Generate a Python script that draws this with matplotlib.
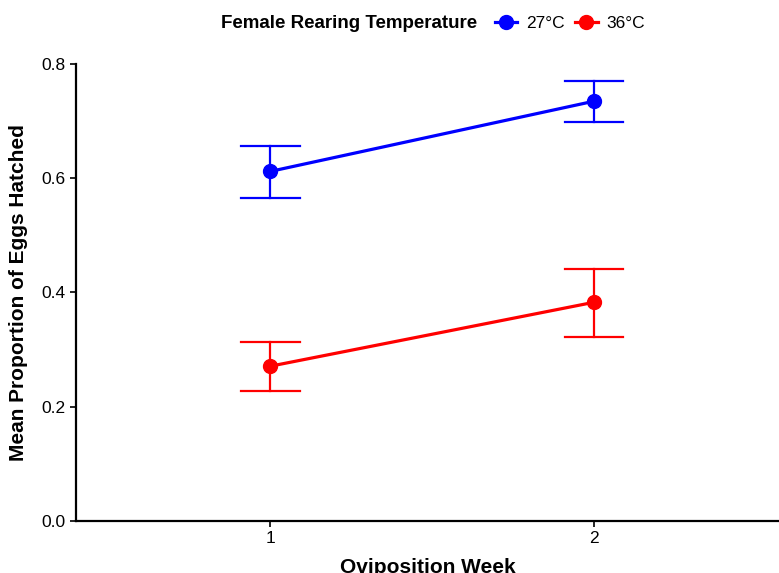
import matplotlib.pyplot as plt
from matplotlib.lines import Line2D

plt.rcParams['font.family'] = ['Liberation Sans', 'DejaVu Sans']

weeks = [1, 2]
groups = ["27°C", "36°C"]
colors = ["#0000FF", "#FF0000"]
means = [[0.612, 0.735], [0.271, 0.383]]
lower = [[0.566, 0.698], [0.227, 0.322]]
upper = [[0.656, 0.770], [0.313, 0.441]]

fig = plt.figure(figsize=(7.79, 5.73), dpi=100)
ax = fig.add_axes([76/779, 52/573, 1 - 76/779, (521 - 64)/573])

for g in range(len(groups)):
    c = colors[g]
    ax.plot(weeks, means[g], color=c, lw=2.3, marker="o", ms=10, zorder=3)
    for i, w in enumerate(weeks):
        ax.plot([w, w], [lower[g][i], upper[g][i]], color=c, lw=1.6, zorder=2)
        ax.plot([w - 0.09, w + 0.09], [lower[g][i], lower[g][i]], color=c, lw=1.6)
        ax.plot([w - 0.09, w + 0.09], [upper[g][i], upper[g][i]], color=c, lw=1.6)

ax.set_xlim(0.4, 2.57)
ax.set_ylim(0, 0.8)
ax.set_xticks(weeks)
ax.set_xticklabels(["1", "2"])
ax.set_yticks([0, 0.2, 0.4, 0.6, 0.8])
ax.set_yticklabels(["0.0", "0.2", "0.4", "0.6", "0.8"])
ax.tick_params(labelsize=12.5, length=4, width=1.2, colors="black")
for s in ["top", "right"]:
    ax.spines[s].set_visible(False)
for s in ["left", "bottom"]:
    ax.spines[s].set_linewidth(1.6)
ax.set_xlabel("Oviposition Week", fontsize=15, fontweight="bold", labelpad=8)
ax.set_ylabel("Mean Proportion of Eggs Hatched", fontsize=15, fontweight="bold", labelpad=10)

handles = [Line2D([], [], color=c, lw=2.3, marker="o", ms=10) for c in colors]
fig.text(477/779, 1 - 23/573, "Female Rearing Temperature", ha="right", va="center",
         fontsize=13.5, fontweight="bold")
fig.legend(handles, groups, loc="center left", bbox_to_anchor=(486/779, 1 - 23/573),
           ncol=2, frameon=False, fontsize=12.5, handlelength=1.3, columnspacing=0.6,
           handletextpad=0.5, borderpad=0)

fig.savefig("out.png", dpi=100)
